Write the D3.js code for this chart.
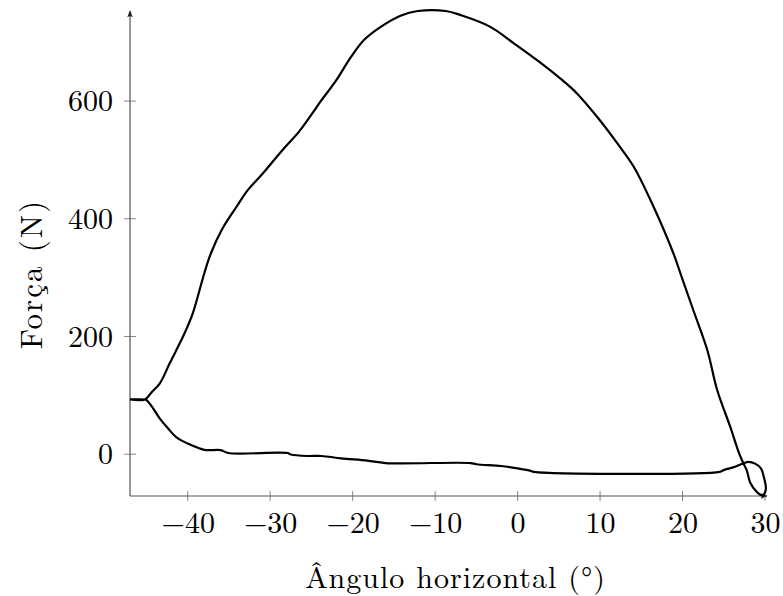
<!DOCTYPE html>
<html>
<head>
<meta charset="utf-8">
<script src="https://cdn.jsdelivr.net/npm/d3@7"></script>
<style>
  body { margin: 0; background: #fff; }
  text { font-family: "Latin Modern Roman", "CMU Serif", "Liberation Serif", serif; fill: #000; }
</style>
</head>
<body>
<div id="container"></div>
<script>
const WIDTH = 783,
      HEIGHT = 596;

const margin = { top: 11, right: 18, bottom: 100, left: 130 };

const width = WIDTH - margin.left - margin.right,
      height = HEIGHT - margin.top - margin.bottom;

// angle (deg) and force (N) in drawing order
const angle = [
  -47, -45.2, -44.4, -43.4, -42.2, -40.4, -39.4, -38.8, -38.0, -37.2,
  -35.8, -34.1, -32.7, -30.9, -28.5, -26.5, -24.9, -23.8, -22.0, -20.2,
  -18.6, -16.6, -14.2, -12.1, -8.7, -6.9, -3.3, -0.45, 2.4, 5.2,
  7.2, 10.0, 12.1, 14.1, 16.5, 18.9, 19.9, 21.3, 23.0, 24.2, 25.8,
  26.9, 27.4, 27.8, 28.2, 29.0, 29.7, 30.1, 29.9, 29.5, 28.8,
  28.0, 27.3, 26.2, 25.0, 24.5, 2.0, 1.5, 0, -2, -5,
  -5.7, -16, -18.2, -21.4, -23.8, -25.5, -27.5, -27.9, -35.1, -36,
  -37.8, -38.6, -40.0, -41.4, -42.4, -43.4, -44.2, -45.0, -45.2, -47
];
const force = [
  93, 93, 105, 120, 154, 205, 239, 267, 307, 341,
  383, 420, 449, 477, 517, 548, 579, 601, 635, 675,
  704, 726, 745, 753, 753, 746, 726, 698, 669, 638,
  613, 567, 528, 488, 420, 341, 301, 245, 177, 109, 46,
  0, -16, -28, -48, -64, -70, -60, -41, -24, -16,
  -13, -16, -22, -27, -30, -30, -28, -24, -20, -17,
  -15, -15, -11, -7, -3, -3, -0.5, 2, 2, 7,
  7, 10, 18, 29, 44, 61, 78, 92, 93, 93
];

const xTicks = [-40, -30, -20, -10, 0, 10, 20, 30];
const yTicks = [0, 200, 400, 600];

const data = angle.map((a, i) => ({ a: a, f: force[i] }));

const svg = d3.select('#container').append('svg')
    .attr("width", WIDTH).attr("height", HEIGHT);

const xScale = d3.scaleLinear().domain([-47, 30]).range([0, width]);
const yScale = d3.scaleLinear().domain([-71, 753]).range([height, 0]);

const container = svg.append('g')
    .attr("transform", `translate(${margin.left}, ${margin.top})`);

const fmt = (d) => d < 0 ? "\u2212" + Math.abs(d) : String(d);

// x axis
const xAxis = d3.axisBottom(xScale).tickValues(xTicks).tickFormat(fmt)
    .tickSize(0).tickPadding(16);
const gx = container.append("g")
    .attr("transform", `translate(0, ${height})`)
    .call(xAxis);
gx.select(".domain").remove();
gx.selectAll("text").style("font-size", "30px").attr("font-family", null);

// y axis
const yAxis = d3.axisLeft(yScale).tickValues(yTicks).tickFormat(fmt)
    .tickSize(0).tickPadding(17);
const gy = container.append("g").call(yAxis);
gy.select(".domain").remove();
gy.selectAll("text").style("font-size", "30px").attr("font-family", null);

// tick marks crossing the axes
container.selectAll(".xt").data(xTicks).join("line")
    .attr("x1", d => xScale(d)).attr("x2", d => xScale(d))
    .attr("y1", height - 5).attr("y2", height + 5)
    .attr("stroke", "#888").attr("stroke-width", 1);
container.selectAll(".yt").data(yTicks).join("line")
    .attr("y1", d => yScale(d)).attr("y2", d => yScale(d))
    .attr("x1", -6).attr("x2", 6)
    .attr("stroke", "#888").attr("stroke-width", 1);

// axis lines with arrows
svg.append("defs").append("marker")
    .attr("id", "arrow")
    .attr("viewBox", "0 0 10 10")
    .attr("refX", 9).attr("refY", 5)
    .attr("markerWidth", 7).attr("markerHeight", 7)
    .attr("markerUnits", "userSpaceOnUse")
    .attr("orient", "auto")
  .append("path")
    .attr("d", "M0,1 L10,5 L0,9 L2,5 Z")
    .attr("fill", "#222");

container.append("line")
    .attr("x1", 0).attr("x2", width + 2)
    .attr("y1", height).attr("y2", height)
    .attr("stroke", "#555").attr("stroke-width", 1.2)
    .attr("marker-end", "url(#arrow)");
container.append("line")
    .attr("x1", 0).attr("x2", 0)
    .attr("y1", height).attr("y2", 0)
    .attr("stroke", "#555").attr("stroke-width", 1.2)
    .attr("marker-end", "url(#arrow)");

// curve
const line = d3.line().x(d => xScale(d.a)).y(d => yScale(d.f))
    .curve(d3.curveCatmullRom.alpha(0.5));
container.append("path")
    .datum(data)
    .attr("d", line)
    .attr("fill", "none")
    .attr("stroke", "#000")
    .attr("stroke-width", 2.2)
    .attr("stroke-linejoin", "round");

// axis labels
svg.append("text")
    .attr("x", margin.left + width / 2 + 8)
    .attr("y", 588)
    .style("text-anchor", "middle")
    .style("font-size", "30px")
    .style("letter-spacing", "1px")
    .text("Ângulo horizontal (°)");

svg.append("text")
    .attr("transform", `translate(42, 274) rotate(-90)`)
    .style("text-anchor", "middle")
    .style("font-size", "31px")
    .style("letter-spacing", "2px")
    .text("Força (N)");
</script>
</body>
</html>
